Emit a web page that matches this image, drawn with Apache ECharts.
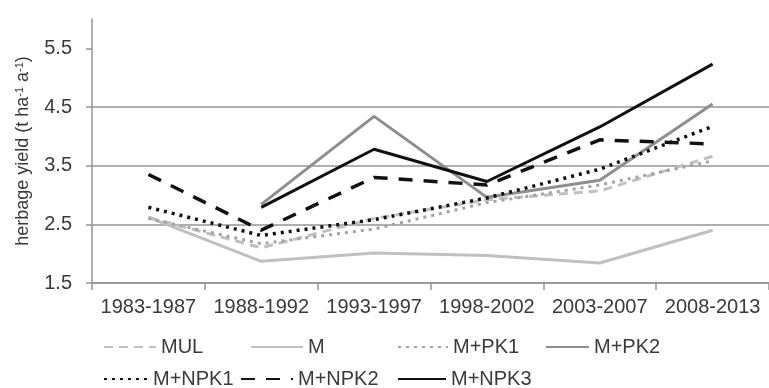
<!DOCTYPE html>
<html>
<head>
<meta charset="utf-8">
<script src="https://cdn.jsdelivr.net/npm/echarts@6/dist/echarts.min.js"></script>
<style>
html,body{margin:0;padding:0;background:#fff;}
#chart{width:769px;height:388px;}
</style>
</head>
<body>
<div id="chart"></div>
<script>
const categories = ['1983-1987','1988-1992','1993-1997','1998-2002','2003-2007','2008-2013'];
const yTicks = [1.5, 2.5, 3.5, 4.5, 5.5];
const MUL   = [2.62, 2.10, 2.60, 2.92, 3.07, 3.66];
const M     = [2.62, 1.87, 2.01, 1.97, 1.84, 2.40];
const M_PK1 = [2.60, 2.17, 2.42, 2.87, 3.17, 3.58];
const M_PK2 = [null, 2.84, 4.34, 2.96, 3.25, 4.55];
const M_NPK1 = [2.79, 2.31, 2.58, 2.95, 3.44, 4.17];
const M_NPK2 = [3.35, 2.40, 3.30, 3.17, 3.94, 3.87];
const M_NPK3 = [null, 2.79, 3.78, 3.23, 4.16, 5.23];

const FONT = 'Liberation Sans';
const TXT = '#3a3a3a';
const GRID = '#949494';

function mk(name, data, color, type, width) {
  return {
    name, type: 'line', data, symbol: 'none', connectNulls: false,
    lineStyle: { color, type, width, cap: 'butt' },
    itemStyle: { color },
    emphasis: { disabled: true }
  };
}
const series = [
  mk('MUL', MUL, '#c0c0c0', [9, 6], 3),
  mk('M', M, '#c0c0c0', 'solid', 3),
  mk('M+PK1', M_PK1, '#a3a3a3', [3, 5], 3),
  mk('M+PK2', M_PK2, '#8e8e8e', 'solid', 3),
  mk('M+NPK1', M_NPK1, '#111111', [3, 5], 3.5),
  mk('M+NPK2', M_NPK2, '#111111', [14, 11], 3.5),
  mk('M+NPK3', M_NPK3, '#111111', 'solid', 3)
];

function lg(name, left, top, w) {
  return {
    data: [name], left, top, padding: 0, itemWidth: w, itemHeight: 14,
    selectedMode: false,
    itemStyle: { opacity: 0 },
    textStyle: { fontSize: 20, fontFamily: FONT, color: TXT }
  };
}
const legends = [
  lg('MUL', 103, 337, 52),
  lg('M', 250, 337, 52),
  lg('M+PK1', 397, 337, 50),
  lg('M+PK2', 545, 337, 43),
  lg('M+NPK1', 103, 369, 44),
  lg('M+NPK2', 240, 369, 52),
  lg('M+NPK3', 397, 369, 48)
];

const chart = echarts.init(document.getElementById('chart'), null, { renderer: 'canvas' });
chart.setOption({
  animation: false,
  backgroundColor: '#fff',
  grid: { left: 92, right: -4, top: 19, bottom: 105, containLabel: false },
  legend: legends,
  xAxis: {
    type: 'category', data: categories, boundaryGap: true,
    axisLine: { show: true, lineStyle: { color: GRID, width: 1.5 } },
    axisTick: { show: true, length: 7, lineStyle: { color: GRID, width: 1.5 } },
    axisLabel: { interval: 0, margin: 14, fontSize: 20, fontFamily: FONT, color: TXT },
    splitLine: { show: false }
  },
  yAxis: {
    type: 'value', min: 1.5, max: 6,
    name: 'herbage yield (t ha{s|-1} a{s|-1})',
    nameLocation: 'middle', nameRotate: 90, nameGap: 60,
    nameTextStyle: {
      fontSize: 18, fontFamily: FONT, color: TXT,
      rich: { s: { fontSize: 11, fontFamily: FONT, color: TXT, verticalAlign: 'top', lineHeight: 18 } }
    },
    axisLine: { show: true, lineStyle: { color: GRID, width: 1.5 } },
    axisTick: { show: true, length: 6, customValues: yTicks, lineStyle: { color: GRID, width: 1.5 } },
    axisLabel: { customValues: yTicks, margin: 20, fontSize: 20, fontFamily: FONT, color: TXT,
      formatter: v => v.toFixed(1) },
    splitLine: { show: true, customValues: yTicks, showMaxLine: false, lineStyle: { color: GRID, width: 1.5 } }
  },
  series
});
</script>
</body>
</html>
